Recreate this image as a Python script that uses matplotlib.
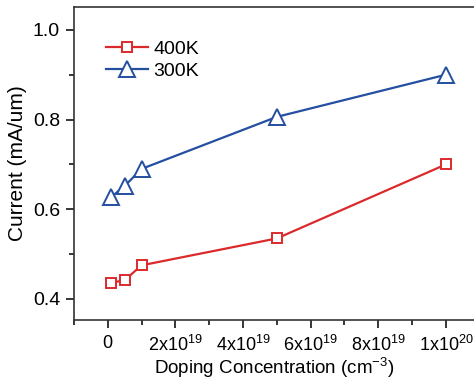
import matplotlib
matplotlib.use("Agg")
import matplotlib.pyplot as plt
from matplotlib.ticker import FixedLocator, MultipleLocator

plt.rcParams['font.family'] = ['Liberation Sans', 'DejaVu Sans']
plt.rcParams['mathtext.fontset'] = 'custom'
plt.rcParams['mathtext.rm'] = 'Liberation Sans'
plt.rcParams['mathtext.it'] = 'Liberation Sans'

#### Data ####

doping = [1e18, 5e18, 1e19, 5e19, 1e20]
current_400k = [0.436, 0.442, 0.475, 0.535, 0.700]
current_300k = [0.627, 0.652, 0.690, 0.806, 0.900]

x_ticks = [0, 2e19, 4e19, 6e19, 8e19, 1e20]
x_tick_labels = ['0', r'$2\mathrm{x}10^{19}$', r'$4\mathrm{x}10^{19}$',
                 r'$6\mathrm{x}10^{19}$', r'$8\mathrm{x}10^{19}$', r'$1\mathrm{x}10^{20}$']
y_ticks = [0.4, 0.6, 0.8, 1.0]

red = '#dc2a2c'
blue = '#244fa0'

#### Plot ####

fig = plt.figure(figsize=(4.74, 3.87), dpi=100)
ax = fig.add_axes([0.156, 0.173, 0.844, 0.809])

ax.plot(doping, current_400k, '-s', color=red, lw=1.6, ms=7,
        mfc='white', mec=red, mew=1.4, label='400K')
ax.plot(doping, current_300k, '-^', color=blue, lw=1.6, ms=11,
        mfc='white', mec=blue, mew=1.4, label='300K')

ax.set_xlim(-1e19, 1.083e20)
ax.set_ylim(0.353, 1.051)
ax.spines['right'].set_visible(False)
for s in ax.spines.values():
    s.set_linewidth(1.2)
    s.set_color('#333333')

ax.xaxis.set_major_locator(FixedLocator(x_ticks))
ax.set_xticklabels(x_tick_labels)
ax.xaxis.set_minor_locator(MultipleLocator(1e19))
ax.yaxis.set_major_locator(FixedLocator(y_ticks))
ax.set_yticklabels(['0.4', '0.6', '0.8', '1.0'])
ax.yaxis.set_minor_locator(MultipleLocator(0.1))
ax.tick_params(which='major', direction='out', length=6, width=1.1, pad=4)
ax.tick_params(which='minor', direction='out', length=3.5, width=1.1)
ax.tick_params(axis='y', labelsize=14)
ax.tick_params(axis='x', labelsize=13, pad=5)

ax.set_xlabel('Doping Concentration (cm$^{-3}$)', fontsize=13.5, labelpad=0)
ax.set_ylabel('Current (mA/um)', fontsize=15, labelpad=4)

ax.legend(loc='upper left', bbox_to_anchor=(0.05, 0.93), frameon=False,
          fontsize=14, handlelength=2.2, handletextpad=0.25,
          labelspacing=0.2, borderaxespad=0.2)

fig.savefig('out.png', dpi=100)
